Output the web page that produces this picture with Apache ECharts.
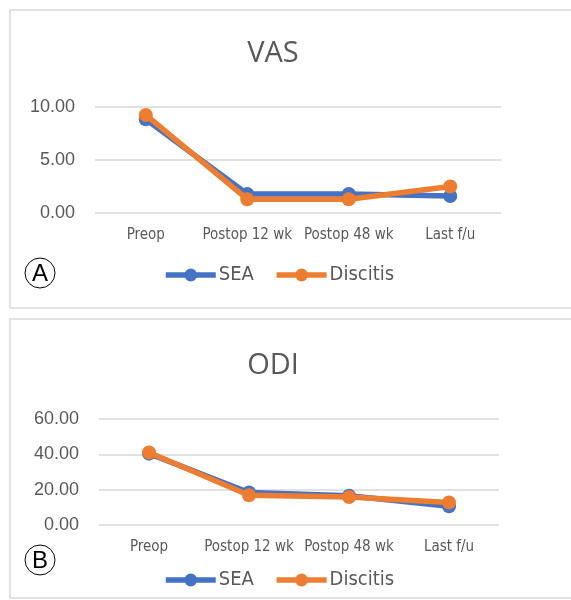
<!DOCTYPE html>
<html><head><meta charset="utf-8">
<script src="https://cdn.jsdelivr.net/npm/echarts@6/dist/echarts.min.js"></script>
<style>html,body{margin:0;padding:0;background:#fff}#c{width:571px;height:600px}</style>
</head><body><div id="c"></div>
<script>
const categories = ['Preop', 'Postop 12 wk', 'Postop 48 wk', 'Last f/u'];
const vasSEA = [8.85, 1.8, 1.8, 1.6];
const vasDiscitis = [9.25, 1.3, 1.3, 2.5];
const odiSEA = [40.4, 18.4, 16.6, 10.6];
const odiDiscitis = [41.0, 16.8, 15.8, 12.8];
const vasTicks = {min: 0, max: 10, interval: 5};
const odiTicks = {min: 0, max: 60, interval: 20};

const BLUE = '#4472C4', ORANGE = '#ED7D31', GRAY = '#595959';
const COND = "'DejaVu Sans Condensed', 'Roboto', sans-serif";
const chart = echarts.init(document.getElementById('c'));

function xAxis(gi) {
  return {type: 'category', gridIndex: gi, data: categories, boundaryGap: true,
    axisLine: {show: false}, axisTick: {show: false},
    axisLabel: {color: GRAY, fontFamily: COND, fontSize: 15, margin: 15, interval: 0, hideOverlap: false}};
}
function yAxis(gi, t) {
  return {type: 'value', gridIndex: gi, min: t.min, max: t.max, interval: t.interval,
    axisLine: {show: false}, axisTick: {show: false},
    axisLabel: {color: GRAY, fontFamily: 'Liberation Sans', fontSize: 18, margin: 20,
      formatter: v => v.toFixed(2)},
    splitLine: {lineStyle: {color: '#d9d9d9', width: 1.5}}};
}
function line(name, data, color, gi) {
  return {name, type: 'line', xAxisIndex: gi, yAxisIndex: gi, data,
    symbol: 'circle', symbolSize: 14, color,
    lineStyle: {width: 5.5, color}, itemStyle: {color}, z: name === 'Discitis' ? 3 : 2};
}
function legend(top) {
  return {top, left: 163, padding: 0, itemWidth: 50, itemHeight: 16, itemGap: 20,
    data: ['SEA', 'Discitis'],
    lineStyle: {width: 5.5},
    textStyle: {color: GRAY, fontFamily: COND, fontSize: 20, padding: [0, 0, 0, -2]}};
}

chart.setOption({
  animation: false,
  title: [
    {text: 'VAS', left: 268, top: 34, textAlign: 'center',
      textStyle: {color: GRAY, fontFamily: 'Open Sans', fontSize: 29, fontWeight: 'normal'}},
    {text: 'ODI', left: 268, top: 346, textAlign: 'center',
      textStyle: {color: GRAY, fontFamily: 'Open Sans', fontSize: 29, fontWeight: 'normal'}}
  ],
  legend: [legend(265), legend(570)],
  grid: [
    {left: 95, width: 406, top: 107, height: 106},
    {left: 99, width: 400, top: 419, height: 106}
  ],
  xAxis: [xAxis(0), xAxis(1)],
  yAxis: [yAxis(0, vasTicks), yAxis(1, odiTicks)],
  series: [
    line('SEA', vasSEA, BLUE, 0), line('Discitis', vasDiscitis, ORANGE, 0),
    line('SEA', odiSEA, BLUE, 1), line('Discitis', odiDiscitis, ORANGE, 1)
  ],
  graphic: [
    {type: 'rect', shape: {x: 10, y: 10, width: 570, height: 298}, style: {fill: 'none', stroke: '#d9d9d9', lineWidth: 1.5}, silent: true},
    {type: 'rect', shape: {x: 10, y: 319, width: 570, height: 279}, style: {fill: 'none', stroke: '#d9d9d9', lineWidth: 1.5}, silent: true},
    {type: 'circle', shape: {cx: 40, cy: 273, r: 15}, style: {fill: '#fff', stroke: '#000', lineWidth: 1}},
    {type: 'text', x: 40, y: 274, style: {text: 'A', fontFamily: 'Liberation Sans', fontSize: 24, fill: '#000', align: 'center', verticalAlign: 'middle'}},
    {type: 'circle', shape: {cx: 40, cy: 560, r: 15}, style: {fill: '#fff', stroke: '#000', lineWidth: 1}},
    {type: 'text', x: 40, y: 561, style: {text: 'B', fontFamily: 'Liberation Sans', fontSize: 24, fill: '#000', align: 'center', verticalAlign: 'middle'}}
  ]
});
</script></body></html>
